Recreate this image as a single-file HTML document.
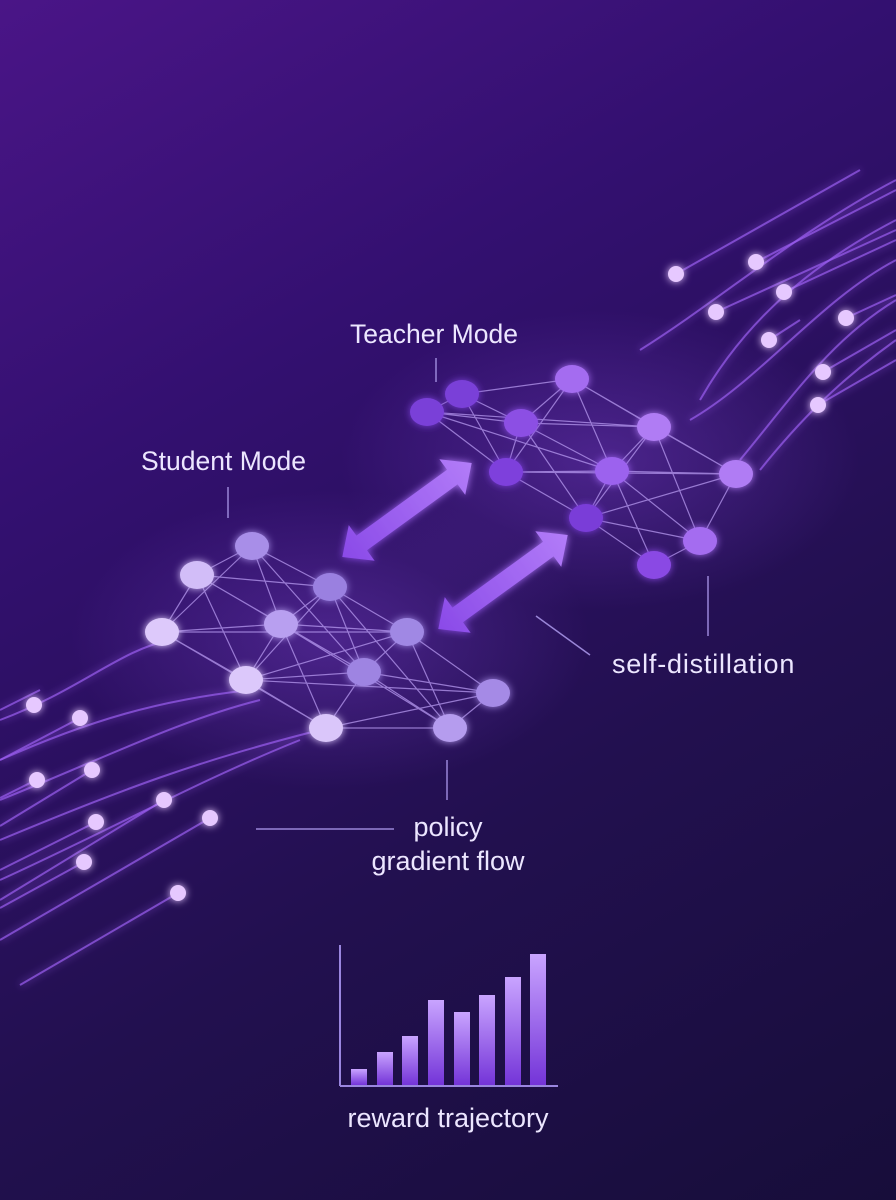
<!DOCTYPE html>
<html><head><style>
html,body{margin:0;padding:0;width:896px;height:1200px;overflow:hidden}
body{background:linear-gradient(150deg,#4a1587 0%,#331070 30%,#22104f 65%,#170d3a 100%)}
svg{position:absolute;left:0;top:0}
text{font-family:"Liberation Sans",sans-serif;fill:#ece6ff}
</style></head><body>
<svg width="896" height="1200" viewBox="0 0 896 1200">
<defs>
<filter id="g" x="-50%" y="-50%" width="200%" height="200%"><feGaussianBlur stdDeviation="4" result="b"/><feMerge><feMergeNode in="b"/><feMergeNode in="SourceGraphic"/></feMerge></filter>
<linearGradient id="bar" x1="0" y1="0" x2="0" y2="1"><stop offset="0" stop-color="#c9a4ff"/><stop offset="1" stop-color="#7434d8"/></linearGradient>
<linearGradient id="arr" x1="0" y1="0" x2="1" y2="0"><stop offset="0" stop-color="#8a4ae8"/><stop offset="1" stop-color="#b27cf8"/></linearGradient>
<radialGradient id="glow"><stop offset="0" stop-color="#8a4ae0" stop-opacity=".35"/><stop offset="1" stop-color="#8a4ae0" stop-opacity="0"/></radialGradient>
</defs>
<ellipse cx="330" cy="640" rx="260" ry="150" fill="url(#glow)"/>
<ellipse cx="600" cy="460" rx="260" ry="150" fill="url(#glow)"/>
<g stroke="#9a5cf0" stroke-opacity=".7" fill="none" stroke-width="2" filter="url(#g)">
<path d="M0 720 C80 690 120 650 170 640"/>
<path d="M0 760 C90 720 160 700 250 690"/>
<path d="M0 800 C100 760 180 720 260 700"/>
<path d="M0 840 C120 790 200 760 320 730"/>
<path d="M0 880 C110 830 200 780 300 740"/>
<path d="M40 690 L0 710"/>
<path d="M80 718 L0 760"/>
<path d="M36 780 L0 798"/>
<path d="M92 770 L0 826"/>
<path d="M164 800 L0 900"/>
<path d="M96 822 L0 870"/>
<path d="M210 818 L0 940"/>
<path d="M84 862 L0 908"/>
<path d="M178 893 L20 985"/>
</g>
<g stroke="#9a5cf0" stroke-opacity=".7" fill="none" stroke-width="2" filter="url(#g)">
<path d="M896 180 C800 230 720 300 640 350"/>
<path d="M896 220 C800 270 740 330 700 400"/>
<path d="M896 260 C820 300 760 380 690 420"/>
<path d="M896 300 C830 340 790 400 740 460"/>
<path d="M896 340 C840 380 800 420 760 470"/>
<path d="M676 274 L860 170"/>
<path d="M756 262 L896 190"/>
<path d="M716 312 L896 230"/>
<path d="M784 292 L896 240"/>
<path d="M846 318 L896 295"/>
<path d="M823 372 L896 330"/>
<path d="M818 405 L896 360"/>
<path d="M769 340 L800 320"/>
</g>
<g fill="#e6c8ff" filter="url(#g)">
<circle cx="34" cy="705" r="8"/><circle cx="80" cy="718" r="8"/><circle cx="37" cy="780" r="8"/><circle cx="92" cy="770" r="8"/><circle cx="164" cy="800" r="8"/><circle cx="96" cy="822" r="8"/><circle cx="210" cy="818" r="8"/><circle cx="84" cy="862" r="8"/><circle cx="178" cy="893" r="8"/>
<circle cx="676" cy="274" r="8"/><circle cx="756" cy="262" r="8"/><circle cx="716" cy="312" r="8"/><circle cx="784" cy="292" r="8"/><circle cx="846" cy="318" r="8"/><circle cx="769" cy="340" r="8"/><circle cx="823" cy="372" r="8"/><circle cx="818" cy="405" r="8"/>
</g>
<g stroke="#b79af0" stroke-opacity=".75" stroke-width="1.2">
<path d="M252 546L197 575M252 546L330 587M252 546L281 624M252 546L162 632M252 546L364 672M197 575L330 587M197 575L162 632M197 575L281 624M197 575L246 680M197 575L364 672M330 587L281 624M330 587L407 632M330 587L364 672M330 587L246 680M330 587L450 728M162 632L281 624M162 632L246 680M162 632L407 632M281 624L407 632M281 624L246 680M281 624L364 672M281 624L326 728M281 624L450 728M407 632L364 672M407 632L493 693M407 632L450 728M407 632L246 680M246 680L364 672M246 680L326 728M246 680L493 693M364 672L326 728M364 672L450 728M364 672L493 693M493 693L450 728M326 728L450 728M326 728L493 693M162 632L326 728"/>
<path d="M462 394L427 412M462 394L572 379M462 394L521 423M462 394L506 472M427 412L521 423M427 412L506 472M427 412L654 427M572 379L521 423M572 379L654 427M572 379L612 471M572 379L506 472M572 379L736 474M521 423L654 427M521 423L506 472M521 423L612 471M521 423L586 518M654 427L612 471M654 427L736 474M654 427L586 518M654 427L700 541M506 472L612 471M506 472L586 518M506 472L736 474M612 471L736 474M612 471L586 518M612 471L700 541M612 471L654 565M736 474L700 541M736 474L586 518M586 518L700 541M586 518L654 565M700 541L654 565M427 412L612 471"/>
</g>
<g filter="url(#g)">
<g>
<ellipse cx="252" cy="546" rx="17" ry="14" fill="#a88ee8"/><ellipse cx="197" cy="575" rx="17" ry="14" fill="#d2bdf8"/><ellipse cx="330" cy="587" rx="17" ry="14" fill="#9a80e0"/><ellipse cx="162" cy="632" rx="17" ry="14" fill="#ddc9fb"/><ellipse cx="281" cy="624" rx="17" ry="14" fill="#b89ff0"/><ellipse cx="407" cy="632" rx="17" ry="14" fill="#a088e4"/><ellipse cx="246" cy="680" rx="17" ry="14" fill="#dcc8fb"/><ellipse cx="364" cy="672" rx="17" ry="14" fill="#9e84e2"/><ellipse cx="493" cy="693" rx="17" ry="14" fill="#a58ae6"/><ellipse cx="326" cy="728" rx="17" ry="14" fill="#dac6fa"/><ellipse cx="450" cy="728" rx="17" ry="14" fill="#b59cee"/>
</g>
<g>
<ellipse cx="462" cy="394" rx="17" ry="14" fill="#7a3fd8"/><ellipse cx="427" cy="412" rx="17" ry="14" fill="#7a3fd8"/><ellipse cx="572" cy="379" rx="17" ry="14" fill="#a46cf0"/><ellipse cx="521" cy="423" rx="17" ry="14" fill="#8c50e4"/><ellipse cx="654" cy="427" rx="17" ry="14" fill="#b07cf4"/><ellipse cx="506" cy="472" rx="17" ry="14" fill="#7e40dc"/><ellipse cx="612" cy="471" rx="17" ry="14" fill="#9c62ee"/><ellipse cx="736" cy="474" rx="17" ry="14" fill="#b07cf4"/><ellipse cx="586" cy="518" rx="17" ry="14" fill="#7a3cd8"/><ellipse cx="700" cy="541" rx="17" ry="14" fill="#a46cf0"/><ellipse cx="654" cy="565" rx="17" ry="14" fill="#8a4ae4"/>
</g>
<g transform="translate(407 510) rotate(-36)"><path d="M-80 0 L-56 -22 L-56 -9 L56 -9 L56 -22 L80 0 L56 22 L56 9 L-56 9 L-56 22 Z" fill="url(#arr)"/></g>
<g transform="translate(503 582) rotate(-36)"><path d="M-80 0 L-56 -22 L-56 -9 L56 -9 L56 -22 L80 0 L56 22 L56 9 L-56 9 L-56 22 Z" fill="url(#arr)"/></g>
</g>
<g stroke="#9a86d8" stroke-width="1.5">
<line x1="436" y1="358" x2="436" y2="382"/>
<line x1="228" y1="487" x2="228" y2="518"/>
<line x1="708" y1="576" x2="708" y2="636"/>
<line x1="536" y1="616" x2="590" y2="655"/>
<line x1="447" y1="760" x2="447" y2="800"/>
<line x1="256" y1="829" x2="394" y2="829"/>
</g>
<text x="350" y="343" font-size="26.5">Teacher Mode</text>
<text x="141" y="470" font-size="26.5">Student Mode</text>
<text x="612" y="673" font-size="27" letter-spacing="0.8">self-distillation</text>
<text x="448" y="836" font-size="27" text-anchor="middle">policy</text>
<text x="448" y="870" font-size="27" text-anchor="middle">gradient flow</text>
<g stroke="#9a86e0" stroke-width="2"><line x1="340" y1="945" x2="340" y2="1086"/><line x1="340" y1="1086" x2="558" y2="1086"/></g>
<g fill="url(#bar)">
<rect x="351" y="1069" width="16" height="16"/><rect x="377" y="1052" width="16" height="33"/><rect x="402" y="1036" width="16" height="49"/><rect x="428" y="1000" width="16" height="85"/><rect x="454" y="1012" width="16" height="73"/><rect x="479" y="995" width="16" height="90"/><rect x="505" y="977" width="16" height="108"/><rect x="530" y="954" width="16" height="131"/>
</g>
<text x="448" y="1127" font-size="27" text-anchor="middle">reward trajectory</text>
</svg>
</body></html>
